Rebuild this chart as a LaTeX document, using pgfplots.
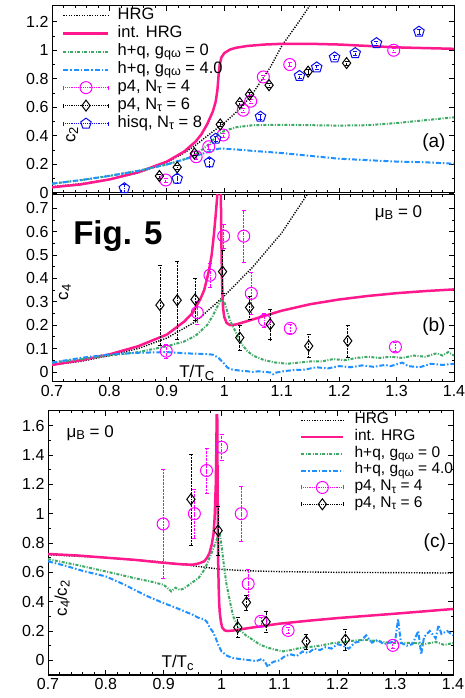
\documentclass[border=0pt]{standalone}
\usepackage{fontspec}
\setmainfont{Liberation Sans}
\usepackage{pgfplots}
\pgfplotsset{compat=1.18}
\usetikzlibrary{plotmarks}
\definecolor{intpink}{RGB}{255,25,140}
\definecolor{hqgreen}{RGB}{60,170,100}
\definecolor{hqblue}{RGB}{30,144,255}
\definecolor{mag}{RGB}{255,0,255}
\definecolor{pentblue}{RGB}{10,10,240}
\newcommand{\bigf}{\fontsize{16}{19}\selectfont}
\newcommand{\labf}{\fontsize{17}{20}\selectfont}
\newcommand{\panf}{\fontsize{19}{22}\selectfont}
\newcommand{\legfa}{\fontsize{16.5}{20}\selectfont}
\newcommand{\legfc}{\fontsize{15.5}{19}\selectfont}
\newcommand{\sub}[1]{\raisebox{-0.3ex}{\scalebox{0.76}{#1}}}
\pgfplotsset{
 panel/.style={scale only axis, xmin=0.7, xmax=1.4,
   xtick={0.7,0.8,0.9,1,1.1,1.2,1.3,1.4}, minor x tick num=4, minor y tick num=1,
   tick align=inside, major tick length=5pt, minor tick length=2.5pt,
   axis line style={line width=1pt}, every tick/.style={black, line width=0.8pt},
   tick label style={font=\bigf}, /pgf/number format/assume math mode=true,
   legend cell align=left},
 linelegend/.style={legend image code/.code={\draw[##1] (0pt,0pt) -- (\leglen,0pt);}},
 hrg/.style={black, line width=1.4pt, dash pattern=on 1.2pt off 1.4pt, mark=none, linelegend},
 ihrg/.style={intpink, line width=2.5pt, mark=none, linelegend},
 hqz/.style={hqgreen, line width=2pt, dash pattern=on 3pt off 1.5pt on 1pt off 1.5pt, mark=none, linelegend},
 hqf/.style={hqblue, line width=2pt, dash pattern=on 5pt off 2pt on 1.5pt off 2pt, mark=none, linelegend},
 pointset/.style={only marks, mark options={solid, line width=1pt},
   legend image code/.code={\draw[#1, densely dotted, line width=0.8pt] (0pt,0pt) -- (\leglen,0pt);
     \draw[#1, solid, line width=0.8pt] (0pt,-2pt) -- (0pt,2pt) (\leglen,-2pt) -- (\leglen,2pt);
     \draw[##1] plot coordinates {(0.5*\leglen,0pt)};},
   error bars/.cd, y dir=both, y explicit,
   error bar style={#1, densely dotted, line width=0.8pt},
   error mark options={rotate=90, mark size=2pt, solid, #1}},
 pfour/.style={mag, mark=o, mark size=6pt, pointset=mag},
 psix/.style={black, mark=diamond, mark size=5.5pt, pointset=black},
 hisq/.style={pentblue, mark=pentagon, mark size=5.5pt, pointset=pentblue},
}
\newlength{\leglen}
\begin{document}
\begin{tikzpicture}
\path[use as bounding box] (0pt,0pt) rectangle (465pt,698pt);
% ---------------- panel (a)
\setlength{\leglen}{45pt}
\begin{axis}[panel, at={(52pt,505pt)}, anchor=south west, width=402pt, height=187pt,
  ymin=0, ymax=1.31, ytick={0,0.2,0.4,0.6,0.8,1,1.2}, xticklabel=\empty,
  legend style={at={(rel axis cs:0.025,0.995)}, anchor=north west, draw=none, fill=none,
   font=\legfa, row sep=1pt, inner sep=0pt, nodes={inner sep=0pt, text height=12pt, text depth=5pt},
   /tikz/every odd column/.append style={column sep=8pt}}]
\addplot[hrg] coordinates {(0.70,0.045) (0.75,0.065) (0.80,0.095) (0.85,0.14) (0.90,0.215) (0.93,0.28) (0.95,0.335) (0.98,0.43) (1.00,0.49) (1.03,0.60) (1.05,0.70) (1.08,0.88) (1.10,1.03) (1.13,1.20) (1.15,1.32)};
\addlegendentry{HRG}
\addplot[ihrg] coordinates {(0.70,0.04) (0.75,0.06) (0.80,0.095) (0.85,0.145) (0.90,0.22) (0.93,0.29) (0.95,0.36) (0.96,0.41) (0.97,0.48) (0.98,0.57) (0.985,0.64) (0.988,0.72) (0.990,0.82) (0.992,0.90) (0.995,0.95) (1.0,0.98) (1.01,1.005) (1.02,1.017) (1.04,1.03) (1.07,1.04) (1.1,1.045) (1.15,1.045) (1.2,1.04) (1.25,1.03) (1.3,1.02) (1.35,1.015) (1.4,1.01)};
\addlegendentry{int. HRG}
\addplot[hqz] coordinates {(0.70,0.065) (0.75,0.09) (0.80,0.12) (0.85,0.155) (0.90,0.20) (0.93,0.235) (0.95,0.27) (0.97,0.33) (0.98,0.37) (0.99,0.41) (1.00,0.435) (1.02,0.46) (1.05,0.475) (1.1,0.478) (1.15,0.475) (1.2,0.472) (1.25,0.475) (1.3,0.49) (1.35,0.51) (1.4,0.53)};
\addlegendentry{h+q, g\sub{qω} = 0}
\addplot[hqf] coordinates {(0.70,0.065) (0.75,0.09) (0.80,0.12) (0.85,0.155) (0.90,0.20) (0.93,0.235) (0.95,0.26) (0.97,0.285) (0.98,0.30) (0.99,0.31) (1.0,0.31) (1.02,0.305) (1.05,0.295) (1.1,0.28) (1.15,0.26) (1.2,0.24) (1.25,0.23) (1.3,0.22) (1.35,0.215) (1.4,0.205)};
\addlegendentry{h+q, g\sub{qω} = 4.0}
\addplot[pfour] table[x=x,y=y,y error=e] {
x y e
0.898 0.091 0.015
0.951 0.254 0.015
0.973 0.324 0.015
0.998 0.406 0.015
1.033 0.580 0.015
1.046 0.643 0.015
1.068 0.813 0.015
1.114 0.900 0.015
1.295 1.000 0.015
};
\addlegendentry{p4, N\sub{τ} = 4}
\addplot[psix] table[x=x,y=y,y error=e] {
x y e
0.887 0.119 0.015
0.918 0.180 0.015
0.948 0.277 0.015
0.993 0.480 0.015
1.027 0.630 0.015
1.044 0.690 0.015
1.078 0.755 0.015
1.146 0.850 0.015
1.213 0.910 0.015
};
\addlegendentry{p4, N\sub{τ} = 6}
\addplot[hisq] table[x=x,y=y,y error=e] {
x y e
0.826 0.033 0.03
0.918 0.100 0.03
0.974 0.215 0.03
0.985 0.380 0.02
1.063 0.534 0.02
1.131 0.820 0.015
1.161 0.880 0.015
1.192 0.950 0.015
1.228 0.980 0.015
1.265 1.050 0.015
1.339 1.130 0.015
};
\addlegendentry{hisq, N\sub{τ} = 8}
\node[rotate=90, font=\labf] at (rel axis cs:0.05,0.31) {c\sub{2}};
\node[font=\panf] at (rel axis cs:0.95,0.267) {(a)};
\end{axis}
% ---------------- panel (b)
\begin{axis}[panel, at={(52pt,316pt)}, anchor=south west, width=402pt, height=187pt,
  ymin=-0.043, ymax=0.757, ytick={0,0.1,0.2,0.3,0.4,0.5,0.6,0.7}]
\addplot[hrg] coordinates {(0.70,0.03) (0.75,0.045) (0.80,0.07) (0.85,0.10) (0.90,0.145) (0.95,0.215) (1.00,0.325) (1.05,0.45) (1.10,0.595) (1.15,0.78)};
\addplot[ihrg] coordinates {(0.70,0.03) (0.75,0.05) (0.80,0.075) (0.85,0.11) (0.90,0.16) (0.93,0.215) (0.944,0.25) (0.958,0.31) (0.965,0.35) (0.973,0.43) (0.978,0.50) (0.982,0.59) (0.985,0.67) (0.988,0.76) (0.989,0.90) (0.993,0.90) (0.994,0.76) (0.995,0.55) (0.996,0.40) (0.997,0.32) (0.998,0.27) (1.0,0.235) (1.004,0.21) (1.01,0.2) (1.02,0.203) (1.03,0.21) (1.05,0.225) (1.1,0.262) (1.15,0.29) (1.2,0.31) (1.25,0.325) (1.3,0.337) (1.35,0.346) (1.4,0.353)};
\addplot[hqz] coordinates {(0.70,0.04) (0.75,0.055) (0.80,0.07) (0.85,0.085) (0.90,0.11) (0.93,0.13) (0.95,0.155) (0.97,0.20) (0.98,0.24) (0.99,0.29) (0.995,0.31) (1.0,0.30) (1.005,0.26) (1.01,0.22) (1.02,0.17) (1.03,0.12) (1.04,0.09) (1.05,0.07) (1.07,0.05) (1.09,0.04) (1.11,0.035) (1.13,0.04) (1.15,0.045) (1.17,0.045) (1.19,0.055) (1.21,0.05) (1.23,0.06) (1.25,0.065) (1.27,0.06) (1.29,0.065) (1.31,0.06) (1.33,0.07) (1.35,0.065) (1.37,0.08) (1.38,0.07) (1.39,0.085) (1.4,0.07)};
\addplot[hqf] coordinates {(0.70,0.04) (0.75,0.06) (0.80,0.075) (0.85,0.082) (0.90,0.085) (0.93,0.08) (0.95,0.078) (0.97,0.076) (0.98,0.074) (0.99,0.06) (1.0,0.035) (1.005,0.02) (1.01,0.012) (1.02,0.008) (1.03,0.005) (1.04,0.003) (1.05,0.0) (1.06,0.003) (1.07,0.0) (1.08,-0.002) (1.085,-0.01) (1.09,-0.003) (1.1,0.002) (1.12,0.008) (1.14,0.01) (1.16,0.02) (1.18,0.015) (1.2,0.025) (1.22,0.02) (1.24,0.028) (1.26,0.022) (1.28,0.03) (1.29,0.025) (1.31,0.04) (1.32,0.025) (1.34,0.02) (1.36,0.035) (1.38,0.03) (1.4,0.035)};
\addplot[pfour] table[x=x,y=y,y error=e] {
x y e
0.899 0.089 0.03
0.953 0.254 0.05
0.975 0.414 0.05
0.999 0.581 0.05
1.034 0.581 0.11
1.047 0.336 0.09
1.070 0.221 0.03
1.115 0.186 0.02
1.298 0.107 0.02
};
\addplot[psix] table[x=x,y=y,y error=e] {
x y e
0.888 0.286 0.17
0.918 0.307 0.165
0.949 0.310 0.09
0.997 0.429 0.09
1.027 0.147 0.053
1.044 0.276 0.05
1.080 0.204 0.066
1.147 0.111 0.05
1.215 0.133 0.068
};
\node[rotate=90, font=\labf] at (rel axis cs:0.032,0.48) {c\sub{4}};
\node[font=\fontsize{33}{38}\selectfont\bfseries] at (rel axis cs:0.164,0.783) {Fig. 5};
\node[font=\labf] at (rel axis cs:0.862,0.904) {μ\sub{B} = 0};
\node[font=\panf] at (rel axis cs:0.95,0.294) {(b)};
\node[font=\labf] at (rel axis cs:0.36,0.05) {T/T\sub{C}};
\end{axis}
% ---------------- panel (c)
\setlength{\leglen}{42pt}
\begin{axis}[panel, at={(48pt,23pt)}, anchor=south west, width=405pt, height=264pt,
  ymin=-0.1, ymax=1.7, ytick={0,0.2,0.4,0.6,0.8,1,1.2,1.4,1.6},
  legend style={at={(rel axis cs:0.622,0.995)}, anchor=north west, draw=none, fill=none,
   font=\legfc, row sep=1.3pt, inner sep=0pt, nodes={inner sep=0pt, text height=11pt, text depth=4.5pt},
   /tikz/every odd column/.append style={column sep=10pt}}]
\addplot[hrg] coordinates {(0.70,0.72) (0.75,0.71) (0.80,0.70) (0.85,0.685) (0.90,0.67) (0.95,0.645) (1.0,0.62) (1.05,0.61) (1.1,0.605) (1.2,0.60) (1.3,0.598) (1.4,0.595)};
\addlegendentry{HRG}
\addplot[ihrg] coordinates {(0.70,0.725) (0.75,0.715) (0.80,0.70) (0.85,0.685) (0.90,0.665) (0.93,0.655) (0.95,0.652) (0.96,0.66) (0.97,0.675) (0.975,0.70) (0.979,0.73) (0.983,0.79) (0.986,0.86) (0.988,0.97) (0.990,1.2) (0.991,1.45) (0.9915,1.67) (0.9925,1.67) (0.993,1.3) (0.9935,1.0) (0.994,0.7) (0.995,0.5) (0.996,0.38) (0.997,0.32) (0.999,0.26) (1.001,0.225) (1.005,0.205) (1.01,0.2) (1.02,0.203) (1.05,0.222) (1.1,0.25) (1.15,0.27) (1.2,0.288) (1.25,0.303) (1.3,0.318) (1.35,0.334) (1.4,0.35)};
\addlegendentry{int. HRG}
\addplot[hqz] coordinates {(0.70,0.69) (0.75,0.65) (0.80,0.606) (0.85,0.56) (0.88,0.535) (0.90,0.515) (0.913,0.47) (0.92,0.495) (0.928,0.48) (0.935,0.49) (0.948,0.527) (0.96,0.56) (0.971,0.622) (0.985,0.754) (0.994,0.85) (0.997,0.86) (1.0,0.78) (1.004,0.65) (1.008,0.53) (1.014,0.41) (1.02,0.30) (1.031,0.21) (1.042,0.17) (1.054,0.14) (1.065,0.11) (1.077,0.09) (1.09,0.075) (1.106,0.061) (1.12,0.07) (1.135,0.084) (1.15,0.09) (1.17,0.10) (1.193,0.118) (1.21,0.125) (1.23,0.135) (1.25,0.14) (1.27,0.13) (1.29,0.12) (1.308,0.118) (1.33,0.12) (1.35,0.11) (1.37,0.125) (1.385,0.105) (1.4,0.118)};
\addlegendentry{h+q, g\sub{qω} = 0}
\addplot[hqf] coordinates {(0.70,0.675) (0.73,0.645) (0.76,0.61) (0.80,0.572) (0.83,0.52) (0.85,0.48) (0.87,0.44) (0.90,0.39) (0.92,0.36) (0.95,0.311) (0.96,0.29) (0.97,0.28) (0.975,0.26) (0.98,0.22) (0.985,0.195) (0.99,0.15) (0.995,0.10) (1.0,0.06) (1.01,0.03) (1.02,0.015) (1.03,0.01) (1.04,0.005) (1.05,0.0) (1.06,-0.005) (1.07,0.01) (1.075,-0.01) (1.08,-0.045) (1.085,-0.02) (1.09,-0.01) (1.1,0.0) (1.11,0.03) (1.12,0.04) (1.13,0.03) (1.14,0.06) (1.15,0.05) (1.16,0.08) (1.17,0.07) (1.18,0.09) (1.19,0.08) (1.2,0.11) (1.21,0.1) (1.22,0.08) (1.23,0.12) (1.24,0.13) (1.25,0.17) (1.26,0.12) (1.27,0.14) (1.28,0.11) (1.29,0.12) (1.3,0.13) (1.305,0.28) (1.31,0.12) (1.32,0.1) (1.33,0.11) (1.34,0.2) (1.345,0.04) (1.35,0.16) (1.36,0.2) (1.37,0.15) (1.375,0.24) (1.38,0.18) (1.39,0.2) (1.4,0.17)};
\addlegendentry{h+q, g\sub{qω} = 4.0}
\addplot[pfour] table[x=x,y=y,y error=e] {
x y e
0.899 0.930 0.37
0.953 1.000 0.165
0.974 1.294 0.153
1.000 1.453 0.09
1.034 1.000 0.185
1.046 0.522 0.10
1.068 0.266 0.03
1.115 0.204 0.02
1.296 0.102 0.02
};
\addlegendentry{p4, N\sub{τ} = 4}
\addplot[psix] table[x=x,y=y,y error=e] {
x y e
0.947 1.098 0.31
0.994 0.885 0.165
1.028 0.225 0.07
1.043 0.395 0.05
1.077 0.263 0.07
1.146 0.129 0.05
1.214 0.141 0.07
};
\addlegendentry{p4, N\sub{τ} = 6}
\node[font=\labf] at (rel axis cs:0.104,0.917) {μ\sub{B} = 0};
\node[rotate=90, font=\labf] at (rel axis cs:0.035,0.29) {c\sub{4}/c\sub{2}};
\node[font=\panf] at (rel axis cs:0.955,0.5) {(c)};
\node[font=\labf] at (rel axis cs:0.32,0.045) {T/T\sub{c}};
\end{axis}
\end{tikzpicture}
\end{document}
